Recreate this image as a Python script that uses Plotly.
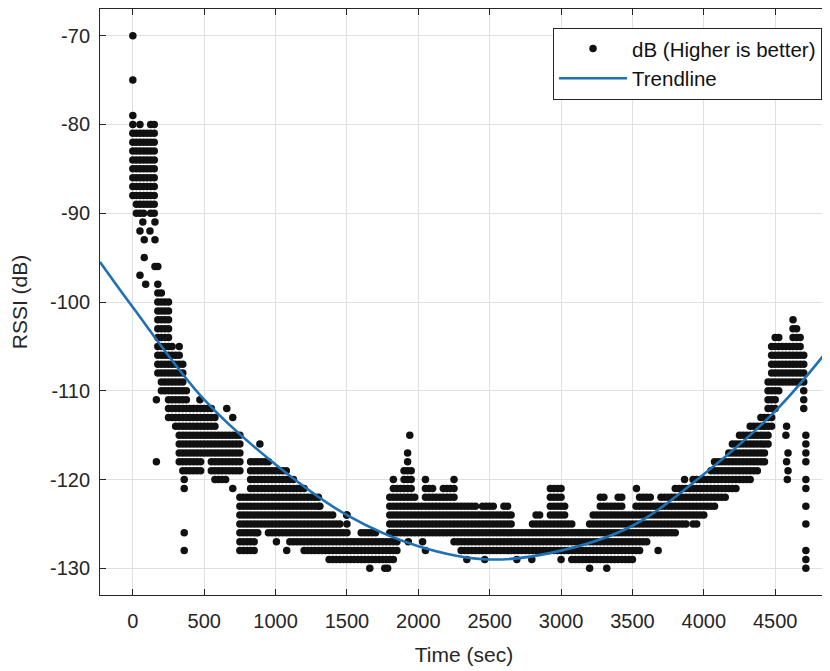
import plotly.graph_objects as go

# ---------------- data ----------------
# Column times (sec), every 25 s; for each column the highest and lowest dB level present
col_t = list(range(0, 4701, 25))
col_top = [
    -79, -81, -80, -81, -81, -80, -80, -98,
    -99, -100, -100, -105, -106, -105, -107, -110,
    -112, -112, -112, -112, -112, -112, -112, -113,
    -115, -115, -115, -115, -115, -115, -115, -122,
    -122, -118, -118, -118, -118, -118, -118, -119,
    -119, -119, -119, -119, -120, -120, -121, -121,
    -121, -122, -122, -122, -122, -124, -124, -124,
    -124, -125, -125, -126, -124, -127, -127, -127,
    -126, -126, -126, -126, -126, -127, -127, -127,
    -122, -120, -121, -121, -119, -117, -119, -122,
    -123, -123, -120, -121, -121, -122, -122, -121,
    -121, -121, -120, -123, -123, -123, -123, -123,
    -123, -124, -123, -123, -123, -123, -124, -124,
    -123, -123, -124, -126, -126, -126, -126, -126,
    -125, -124, -124, -125, -125, -121, -121, -121,
    -121, -123, -125, -125, -126, -126, -126, -126,
    -125, -124, -124, -122, -122, -123, -123, -123,
    -122, -122, -124, -124, -124, -123, -122, -122,
    -122, -122, -123, -123, -122, -122, -122, -122,
    -121, -121, -121, -121, -121, -120, -120, -120,
    -120, -120, -119, -118, -118, -118, -118, -117,
    -116, -116, -115, -115, -115, -114, -114, -114,
    -113, -113, -109, -105, -104, -104, -105, -105,
    -105, -102, -103, -104, -106,
]
col_bot = [
    -88, -90, -90, -90, -89, -90, -90, -108,
    -110, -110, -113, -113, -114, -118, -119, -119,
    -119, -119, -119, -119, -117, -117, -119, -120,
    -120, -120, -120, -119, -119, -119, -119, -128,
    -128, -128, -128, -126, -125, -125, -126, -126,
    -126, -126, -126, -126, -127, -127, -127, -127,
    -128, -128, -128, -128, -128, -128, -128, -129,
    -129, -129, -129, -129, -129, -129, -129, -129,
    -129, -129, -129, -129, -129, -129, -129, -129,
    -129, -129, -128, -126, -126, -126, -126, -126,
    -126, -126, -126, -126, -126, -126, -126, -126,
    -126, -126, -127, -127, -128, -128, -128, -128,
    -128, -128, -128, -128, -128, -128, -128, -128,
    -128, -128, -128, -128, -128, -128, -128, -128,
    -128, -128, -128, -128, -128, -128, -128, -128,
    -128, -128, -128, -129, -129, -129, -129, -129,
    -129, -129, -129, -129, -129, -129, -129, -129,
    -129, -129, -129, -129, -129, -128, -128, -127,
    -127, -126, -126, -126, -126, -126, -126, -126,
    -126, -125, -125, -125, -124, -125, -125, -124,
    -124, -123, -123, -123, -122, -122, -122, -121,
    -121, -121, -120, -120, -120, -120, -119, -119,
    -118, -118, -116, -114, -112, -110, -109, -109,
    -109, -109, -109, -109, -112,
]
# a second, separate band in some columns
extra_t = [750]
extra_top = [-122]
extra_bot = [-128]
# isolated samples
out_t = [0, 0, 70, 155, 50, 120, 80, 155, 80, 155, 175, 50, 90,
         165, 165, 470, 658, 700, 360, 360, 360, 360, 700, 890, 1006, 1078,
         1310, 1498, 1660, 1765, 1785, 1940, 1930, 2030, 2050,
         2340, 2465, 2690, 2795, 3000, 3200, 3320, 3528, 3680, 3865,
         4580, 4575, 4590, 4580, 4590, 4585,
         4715, 4715, 4715, 4715, 4715, 4715, 4715, 4715, 4715, 4715, 4715]
out_db = [-70, -75, -91, -91, -92, -92, -93, -93, -95, -96, -96, -97, -98,
          -111, -118, -111, -112, -113, -120, -121, -126, -128, -121, -116, -127, -128,
          -123, -124, -130, -130, -130, -115, -127, -127, -128,
          -129, -129, -129, -129, -129, -130, -130, -121, -128, -120,
          -114, -115, -117, -118, -119, -120,
          -115, -116, -117, -118, -120, -121, -123, -125, -128, -129, -130]

# trendline
trend_t = [-230, 0, 500, 1000, 1500, 2000, 2500, 3000, 3500, 4000, 4500, 4870]
trend_db = [-95.5, -100.6, -111.0, -118.3, -124.0, -127.5, -129.0, -128.0, -125.2, -119.4, -112.3, -105.4]

x_ticks = [0, 500, 1000, 1500, 2000, 2500, 3000, 3500, 4000, 4500]
x_labels = ["0", "500", "1000", "1500", "2000", "2500", "3000", "3500", "4000", "4500"]
y_ticks = [-130, -120, -110, -100, -90, -80, -70]
y_labels = ["-130", "-120", "-110", "-100", "-90", "-80", "-70"]

# ---------------- expand column ranges into samples ----------------
px, py = [], []
for t, hi, lo in list(zip(col_t, col_top, col_bot)) + list(zip(extra_t, extra_top, extra_bot)):
    for v in range(lo, hi + 1):
        px.append(t)
        py.append(v)
px += out_t
py += out_db

INK = "#262626"
FONT = "Liberation Sans, Arial, Helvetica, sans-serif"

fig = go.Figure()
fig.add_trace(go.Scatter(
    x=px, y=py, mode="markers", name="dB (Higher is better)",
    marker=dict(color="#111111", size=7.5, line=dict(width=0)),
))
fig.add_trace(go.Scatter(
    x=trend_t, y=trend_db, mode="lines", name="Trendline",
    line=dict(color="#1f70b4", width=2.6, shape="spline", smoothing=1.0),
))

axis_common = dict(
    showline=True, linecolor=INK, linewidth=1, mirror="ticks",
    ticks="inside", ticklen=6, tickcolor=INK, tickwidth=1,
    showgrid=True, gridcolor="#e0e0e0", gridwidth=1, zeroline=False,
    tickfont=dict(family=FONT, size=20, color=INK),
)
fig.update_xaxes(range=[-230, 4870], tickvals=x_ticks, ticktext=x_labels,
                 ticklabelstandoff=8,
                 title=dict(text="Time (sec)", font=dict(family=FONT, size=21, color=INK), standoff=16),
                 **axis_common)
fig.update_yaxes(range=[-133, -67], tickvals=y_ticks, ticktext=y_labels,
                 ticklabelstandoff=5,
                 title=dict(text="RSSI (dB)", font=dict(family=FONT, size=21, color=INK), standoff=18),
                 **axis_common)

# page body has an 8 px margin, so the figure is 822 x 663 and starts at (8, 8)
fig.update_layout(
    width=822, height=663,
    margin=dict(l=92, r=2, t=1, b=76, autoexpand=False),
    plot_bgcolor="white", paper_bgcolor="white",
    font=dict(family=FONT, size=20, color=INK),
    showlegend=True,
    legend=dict(x=0.9918, y=0.968, xanchor="right", yanchor="top",
                bgcolor="white", bordercolor=INK, borderwidth=1,
                font=dict(family=FONT, size=20.5, color="#111111"),
                itemwidth=68, tracegroupgap=0),
)

fig.write_html("out.html")
